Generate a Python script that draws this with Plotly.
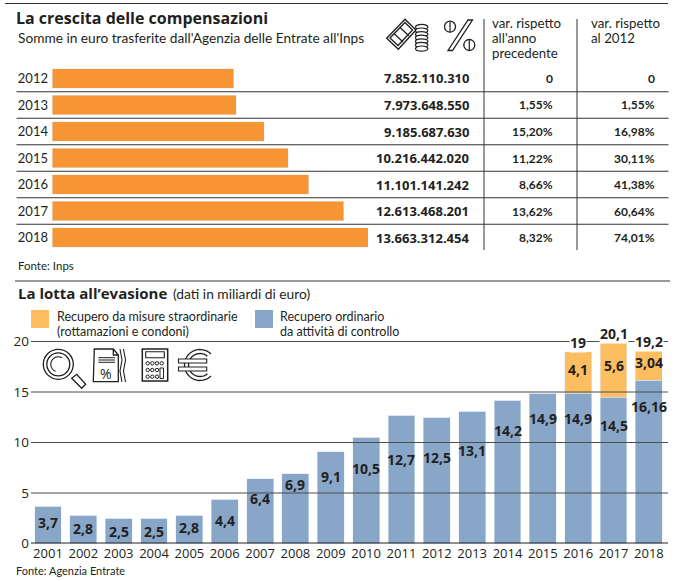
import math
import plotly.graph_objects as go

W, H = 683, 581

# ---- data: upper table
comp_years = ["2012", "2013", "2014", "2015", "2016", "2017", "2018"]
comp_values = [7852110310, 7973648550, 9185687630, 10216442020, 11101141242, 12613468201, 13663312454]
comp_labels = ["7.852.110.310", "7.973.648.550", "9.185.687.630", "10.216.442.020",
               "11.101.141.242", "12.613.468.201", "13.663.312.454"]
var_prev = ["0", "1,55%", "15,20%", "11,22%", "8,66%", "13,62%", "8,32%"]
var_2012 = ["0", "1,55%", "16,98%", "30,11%", "41,38%", "60,64%", "74,01%"]

# ---- data: lower chart
ev_years = ["2001", "2002", "2003", "2004", "2005", "2006", "2007", "2008", "2009",
            "2010", "2011", "2012", "2013", "2014", "2015", "2016", "2017", "2018"]
ordinario = [3.7, 2.8, 2.5, 2.5, 2.8, 4.4, 6.4, 6.9, 9.1, 10.5, 12.7, 12.5, 13.1, 14.2, 14.9, 14.9, 14.5, 16.16]
ord_labels = ["3,7", "2,8", "2,5", "2,5", "2,8", "4,4", "6,4", "6,9", "9,1", "10,5", "12,7", "12,5",
              "13,1", "14,2", "14,9", "14,9", "14,5", "16,16"]
straord = [0, 0, 0, 0, 0, 0, 0, 0, 0, 0, 0, 0, 0, 0, 0, 4.1, 5.6, 3.04]
str_labels = {"2016": "4,1", "2017": "5,6", "2018": "3,04"}
tot_labels = {"2016": "19", "2017": "20,1", "2018": "19,2"}
y_ticks = [0, 5, 10, 15, 20]

# ---- styles (pixel offsets of the value labels below the bar tops)
ord_shift = [16, 13, 13, 13, 12, 21, 20, 11, 25, 31, 44, 40, 39, 30, 25, 25, 28, 26]
str_shift = {"2016": 18, "2017": 25, "2018": 13}
tot_shift = {"2016": 9, "2017": 6.5, "2018": 8.5}

ORANGE, LORANGE, BLUE = "#F79433", "#FDBE62", "#88A6C8"
INK, LINE = "#231F20", "#4A4A4A"
SANS = "Open Sans"
NARROW = "Lato"
VAL = 14


def fx(x): return x / W
def fy(y): return 1 - y / H


fig = go.Figure()
fig.add_bar(x=comp_values, y=comp_years, orientation="h", marker_color=ORANGE,
            xaxis="x2", yaxis="y2", showlegend=False, width=0.72)
fig.add_bar(x=ev_years, y=ordinario, marker_color=BLUE, showlegend=False, width=0.76)
fig.add_bar(x=ev_years, y=straord, marker_color=LORANGE, showlegend=False, width=0.76)

ann, shapes = [], []


def text(x, y, s, size=12, anchor="left", color=INK, family=SANS, **kw):
    ann.append(dict(x=fx(x), y=fy(y), xref="paper", yref="paper", text=s, showarrow=False,
                    xanchor=anchor, yanchor="middle", font=dict(size=size, color=color, family=family),
                    borderpad=0, **kw))


def pline(x0, y0, x1, y1, w=1.0, c=LINE):
    shapes.append(dict(type="line", xref="paper", yref="paper", x0=fx(x0), y0=fy(y0), x1=fx(x1), y1=fy(y1),
                       line=dict(width=w, color=c), layer="above"))


def circ(cx, cy, r, ry=None, w=1.3, fill=None):
    ry = r if ry is None else ry
    shapes.append(dict(type="circle", xref="paper", yref="paper", x0=fx(cx - r), x1=fx(cx + r),
                       y0=fy(cy + ry), y1=fy(cy - ry), line=dict(width=w, color=INK),
                       fillcolor=fill or "rgba(0,0,0,0)", layer="above"))


def poly(pts, close=True, w=1.3, fill=None):
    d = "M" + " L".join(f"{fx(a):.5f},{fy(b):.5f}" for a, b in pts) + (" Z" if close else "")
    shapes.append(dict(type="path", path=d, xref="paper", yref="paper", line=dict(width=w, color=INK),
                       fillcolor=fill or "rgba(0,0,0,0)", layer="above"))


def arc(cx, cy, r, a0, a1, w=1.3):
    n = 40
    pts = [(cx + r * math.cos(math.radians(a0 + (a1 - a0) * i / n)),
            cy - r * math.sin(math.radians(a0 + (a1 - a0) * i / n))) for i in range(n + 1)]
    poly(pts, close=False, w=w)


# ---- rules and header
pline(5, 3.5, 668, 3.5, 1.2, "#333333")
pline(15, 281, 670, 281, 1.2, "#333333")
pline(484, 19, 484, 250, 1.0, "#333333")
pline(577, 19, 577, 250, 1.0, "#333333")
text(15, 18, "<b>La crescita delle compensazioni</b>", 16)
text(16.5, 37, "Somme in euro trasferite dall'Agenzia delle Entrate all'Inps", 13.7, family=NARROW)
for i, s in enumerate(["var. rispetto", "all'anno", "precedente"]):
    text(491, 23 + 15 * i, s, 13.3, family=NARROW)
for i, s in enumerate(["var. rispetto", "al 2012"]):
    text(590, 23 + 15 * i, s, 13.3, family=NARROW)
text(17, 265, "Fonte: Inps", 11.5, family=NARROW)
text(17, 293, "<b>La lotta all’evasione</b>", 15)
text(172, 293.5, "(dati in miliardi di euro)", 13.8, family=NARROW)
text(15, 570.5, "Fonte: Agenzia Entrate", 11, family=NARROW)

# ---- legend
for x0, col in [(31, LORANGE), (255, BLUE)]:
    shapes.append(dict(type="rect", xref="paper", yref="paper", x0=fx(x0), x1=fx(x0 + 18),
                       y0=fy(328), y1=fy(310), fillcolor=col, line_width=0, layer="above"))
text(55.5, 316, "Recupero da misure straordinarie", 12.5, family=NARROW)
text(55.5, 331, "(rottamazioni e condoni)", 12.5, family=NARROW)
text(279, 316, "Recupero ordinario", 12.5, family=NARROW)
text(279, 331, "da attività di controllo", 12.5, family=NARROW)

# ---- table rows, anchored on the category axis (annotations take the category index)
for i, yr in enumerate(comp_years):
    for xr, s, sz in [(470.5, comp_labels[i], 13), (555, var_prev[i], 12), (656.5, var_2012[i], 12)]:
        ann.append(dict(x=fx(xr), y=i, xref="paper", yref="y2", text=f"<b>{s}</b>", showarrow=False,
                        xanchor="right", yanchor="middle",
                        font=dict(size=sz, color=INK, family=SANS if sz == 13 else NARROW)))
    if i < len(comp_years) - 1:
        shapes.append(dict(type="line", xref="paper", yref="y2", x0=fx(16.5), x1=fx(668.5), y0=i + 0.5, y1=i + 0.5,
                           line=dict(width=1.1, color="#333333"), layer="above"))

# ---- gridlines above the bars, as in the print original
for v in y_ticks:
    shapes.append(dict(type="line", xref="paper", yref="y", x0=fx(31), x1=fx(668), y0=v, y1=v,
                       line=dict(width=1.8 if v == 0 else 1.1, color="#222222" if v == 0 else "#4D4D4D"),
                       layer="above"))

# ---- value labels
for i, yr in enumerate(ev_years):
    ann.append(dict(x=i, y=ordinario[i], xref="x", yref="y", text=f"<b>{ord_labels[i]}</b>", showarrow=False,
                    yanchor="middle", yshift=-ord_shift[i], font=dict(size=VAL, color=INK, family=SANS)))
    if yr in str_labels:
        top = ordinario[i] + straord[i]
        ann.append(dict(x=i, y=top, xref="x", yref="y", text=f"<b>{str_labels[yr]}</b>", showarrow=False,
                        yanchor="middle", yshift=-str_shift[yr], font=dict(size=VAL, color=INK, family=SANS)))
        ann.append(dict(x=i, y=top, xref="x", yref="y", text=f"<b>{tot_labels[yr]}</b>", showarrow=False,
                        yanchor="middle", yshift=tot_shift[yr], bgcolor="white", borderpad=0,
                        font=dict(size=VAL, color=INK, family=SANS)))

# ---- icons: banknotes and coins
poly([(386.7, 38.3), (405, 19.3), (416, 30), (398.3, 49.3)], w=1.4)
poly([(390, 38), (405, 22.5), (412.5, 30), (398, 45.5)])
pline(394, 33.5, 403, 42, 1.2, INK)
pline(400, 27.5, 409, 36, 1.2, INK)
for k in range(7):
    circ(421.7, 27 + k * 3.6, 6.2, 2.6, fill="white", w=1.2)
# ---- icons: percent sign
circ(450, 26.7, 5.5); pline(450, 21.2, 450, 32.2, 1.2, INK)
circ(469.3, 45, 5.5); pline(469.3, 39.5, 469.3, 50.5, 1.2, INK)
poly([(468, 20), (472.5, 20), (452.5, 50.5), (448, 50.5)])
# ---- icons: magnifier
circ(58.3, 364.3, 15)
circ(58.3, 364.3, 11.5)
arc(58.3, 364.3, 7.5, 60, 250, 1.1)
poly([(71.7, 378.3), (76.7, 374.3), (85.7, 384.3), (81.7, 388.3)])
# ---- icons: document
poly([(94.3, 349), (113.3, 349), (118.3, 355), (118.3, 381.7), (93.3, 381.7)])
poly([(113.3, 349), (113.3, 355), (118.3, 355)], close=False)
for yy in (357.7, 360, 362.3):
    pline(98.3, yy, 115, yy, 1.0, INK)
text(106, 373.5, "%", 14, anchor="center")
for xx in (121, 124.5):
    poly([(xx - 1, 349), (xx + 1, 360), (xx - 1, 371), (xx + 1, 382)], close=False, w=1.1)
# ---- icons: calculator
poly([(142.3, 349), (167.7, 349), (167.7, 381), (142.3, 381)], w=1.5)
poly([(145.7, 351.7), (164.3, 351.7), (164.3, 357.7), (145.7, 357.7)], w=1.1)
for row, yy in enumerate((363.3, 370, 376.7)):
    for col, xx in enumerate((147.7, 152.3, 157, 161.7)):
        if row > 0 and col == 3:
            continue
        circ(xx, yy, 1.7, w=1.0)
poly([(160, 368), (163.5, 368), (163.5, 378.5), (160, 378.5)], w=1.0)
# ---- icons: euro
arc(200, 365, 15.5, 45, 315)
arc(200, 365, 11.5, 50, 310)
poly([(178.5, 359), (206.7, 359), (206.7, 363), (178.5, 363)], w=1.1, fill="white")
poly([(178.5, 367), (206.7, 367), (206.7, 371), (178.5, 371)], w=1.1, fill="white")

top_y = 543.5 - 21 * 10.1
fig.update_layout(
    width=W, height=H, margin=dict(l=0, r=0, t=0, b=0, autoexpand=False), paper_bgcolor="white", plot_bgcolor="white",
    barmode="stack", showlegend=False, annotations=ann, shapes=shapes,
    xaxis=dict(domain=[fx(31), fx(668)], type="category", categoryorder="array", categoryarray=ev_years,
               range=[-0.48, 17.54], showgrid=False, zeroline=False, showline=False, ticks="",
               tickfont=dict(size=13, color=INK, family=SANS), anchor="y", tickangle=0, fixedrange=True),
    yaxis=dict(domain=[fy(543.5), fy(top_y)], range=[0, 21], tickvals=y_ticks, showgrid=False, zeroline=False,
               showline=False, ticks="", tickfont=dict(size=13.5, color=INK, family=SANS), anchor="x",
               ticklabelstandoff=1, fixedrange=True),
    xaxis2=dict(domain=[fx(52), fx(368)], range=[0, comp_values[-1]], visible=False, anchor="y2", fixedrange=True),
    yaxis2=dict(domain=[fy(250.75), fy(65.25)], type="category", categoryorder="array", categoryarray=comp_years,
                range=[6.5, -0.5], showgrid=False, zeroline=False, showline=False, ticks="",
                tickfont=dict(size=13, color=INK, family=NARROW), anchor="x2", ticklabelstandoff=3, fixedrange=True),
)
fig.write_html("out.html", config=dict(displayModeBar=False),
               post_script="document.body.style.margin='0';document.documentElement.style.overflow='hidden';")
